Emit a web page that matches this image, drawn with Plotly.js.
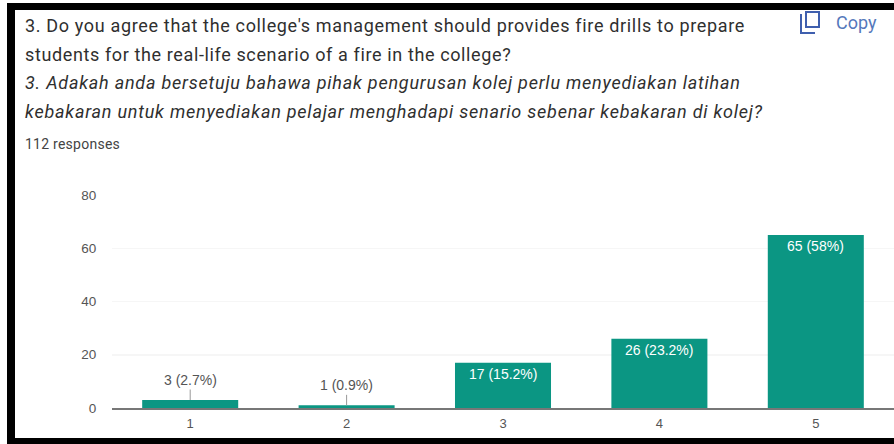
<!DOCTYPE html>
<html>
<head>
<meta charset="utf-8">
<script src="https://cdn.plot.ly/plotly-3.0.1.min.js"></script>
<style>html,body{margin:0;padding:0;background:#fff;overflow:hidden}#chart{width:894px;height:444px}</style>
</head>
<body>
<div id="chart"></div>
<script>
const categories = [1, 2, 3, 4, 5];
const counts = [3, 1, 17, 26, 65];
const percents = ['2.7%', '0.9%', '15.2%', '23.2%', '58%'];
const yTicks = [0, 20, 40, 60, 80];
const questionLines = [
  "3. Do you agree that the college's management should provides fire drills to prepare",
  "students for the real-life scenario of a fire in the college?",
  "<i>3. Adakah anda bersetuju bahawa pihak pengurusan kolej perlu menyediakan latihan</i>",
  "<i>kebakaran untuk menyediakan pelajar menghadapi senario sebenar kebakaran di kolej?</i>"
];
const questionCentres = [26, 54, 82, 111];
const responsesText = '112 responses';
const copyText = 'Copy';

const W = 894, H = 444, L = 112, R = 0, T = 195, B = 36;
const px = x => (x - L) / (W - L - R);
const py = y => 1 - (y - T) / (H - T - B);

const labels = counts.map((c, i) => c + ' (' + percents[i] + ')');
const big = counts.map(c => c >= 10);
const sans = '"Liberation Sans", Arial, sans-serif';

const pageText = (text, x, yc, size, color) => ({
  text, x: px(x), y: py(yc), xref: 'paper', yref: 'paper',
  xanchor: 'left', yanchor: 'middle', showarrow: false, align: 'left',
  xshift: -1, font: {family: 'Roboto, sans-serif', size, color}
});

const annotations = questionLines.map((t, i) => pageText(t, 24, questionCentres[i], 18, '#2f2f2f'));
annotations.push(pageText(responsesText, 24, 144, 14, '#444'));
annotations.push(pageText(copyText, 835, 23, 18, '#5578bb'));
categories.forEach((c, i) => {
  if (big[i]) annotations.push({
    x: c, y: counts[i], xref: 'x', yref: 'y', text: labels[i], showarrow: false,
    yanchor: 'top', yshift: -1, font: {family: sans, size: 14, color: '#fff'}
  });
  else annotations.push({
    x: c, y: counts[i], xref: 'x', yref: 'y', text: labels[i],
    showarrow: true, arrowhead: 0, arrowwidth: 1, arrowcolor: '#999',
    ax: 0, ay: -20, standoff: 0, yanchor: 'middle',
    font: {family: sans, size: 14, color: '#555'}
  });
});

const rect = (x0, y0, x1, y1) => ({
  type: 'rect', xref: 'paper', yref: 'paper', layer: 'above',
  x0: px(x0), x1: px(x1), y0: py(y0), y1: py(y1),
  fillcolor: '#000', line: {width: 0}
});
const stroke = (x0, y0, x1, y1) => ({
  type: 'line', xref: 'paper', yref: 'paper', layer: 'above',
  x0: px(x0), x1: px(x1), y0: py(y0), y1: py(y1),
  line: {color: '#3f5fae', width: 2}
});

const shapes = [
  rect(7, 3, 894, 10),
  rect(7, 438, 894, 444),
  rect(7, 3, 15, 444),
  {type: 'rect', xref: 'paper', yref: 'paper', layer: 'above',
   x0: px(806), x1: px(819), y0: py(12), y1: py(27),
   fillcolor: 'rgba(0,0,0,0)', line: {color: '#3f5fae', width: 2}},
  stroke(801, 14, 801, 33),
  stroke(800, 33, 815, 33)
];

Plotly.newPlot('chart', [{
  type: 'bar',
  x: categories,
  y: counts,
  marker: {color: '#0b9683', line: {width: 0}},
  hoverinfo: 'skip'
}], {
  width: W, height: H,
  margin: {l: L, r: R, t: T, b: B, pad: 0},
  paper_bgcolor: '#fff', plot_bgcolor: '#fff',
  showlegend: false,
  bargap: 0.386,
  font: {family: sans, size: 13, color: '#555'},
  xaxis: {
    type: 'linear', range: [0.5, 5.5], tickvals: categories, ticktext: categories.map(String),
    showgrid: false, zeroline: false, showline: true, linecolor: '#777', linewidth: 1.5,
    ticks: 'outside', ticklen: 3, tickcolor: 'rgba(0,0,0,0)', tickfont: {size: 13, color: '#555'}
  },
  yaxis: {
    range: [0, 80], tickvals: yTicks, ticktext: yTicks.map(String),
    showgrid: true, gridcolor: '#f6f6f6', gridwidth: 1.5, zeroline: false, showline: false,
    ticks: 'outside', ticklen: 12, tickcolor: 'rgba(0,0,0,0)', tickfont: {size: 13.5, color: '#555'}
  },
  annotations, shapes
}, {displayModeBar: false, staticPlot: true}).then(() => {
  // The reference text is letter-spaced; plotly has no font option for this.
  document.querySelectorAll('#chart .annotation-text').forEach(n => {
    const t = n.textContent;
    if (t.length > 70) n.style.letterSpacing = n.querySelector('[style*="italic"]') ? '0.77px' : '0.66px';
    else if (t.length > 40) n.style.letterSpacing = '0.62px';
    else if (t === responsesText) n.style.letterSpacing = '0.25px';
  });
});
</script>
</body>
</html>
